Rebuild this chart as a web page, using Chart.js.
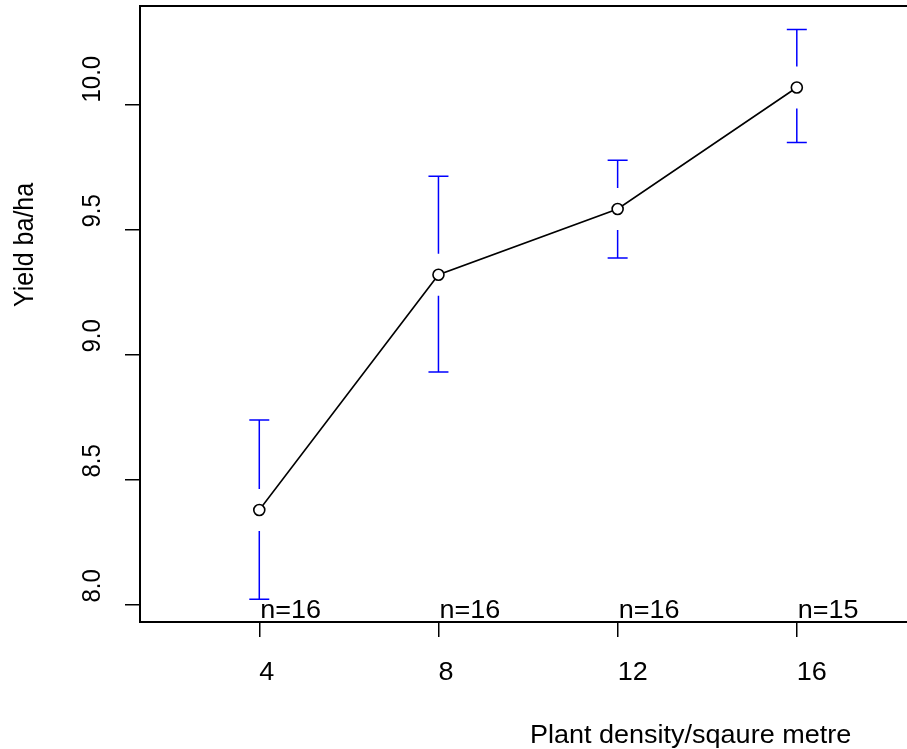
<!DOCTYPE html>
<html>
<head>
<meta charset="utf-8">
<script src="https://cdn.jsdelivr.net/npm/chart.js@4/dist/chart.umd.min.js"></script>
<style>
  body { margin: 0; background: #fff; }
  canvas { display: block; }
</style>
</head>
<body>
<canvas id="yieldChart" width="907" height="749"></canvas>
<script>
// values
const densities = [4, 8, 12, 16];
const meanYield = [8.378, 9.319, 9.582, 10.068];
const upperCI = [8.738, 9.713, 9.777, 10.300];
const lowerCI = [8.021, 8.930, 9.386, 9.848];
const counts = [16, 16, 16, 15];
const yTicks = [8.0, 8.5, 9.0, 9.5, 10.0];

const FONT = '"Liberation Sans", Arial, sans-serif';
const STRETCH = 1.08;

function hText(ctx, str, x, y, size) {
    ctx.save();
    ctx.translate(x, y);
    ctx.scale(STRETCH, 1);
    ctx.font = size + 'px ' + FONT;
    ctx.textAlign = 'left';
    ctx.textBaseline = 'alphabetic';
    ctx.fillText(str, 0, 0);
    ctx.restore();
}

function vText(ctx, str, x, y, size) {
    ctx.save();
    ctx.translate(x, y);
    ctx.scale(STRETCH, 1);
    ctx.rotate(-Math.PI / 2);
    ctx.font = size + 'px ' + FONT;
    ctx.textAlign = 'left';
    ctx.textBaseline = 'alphabetic';
    ctx.fillText(str, 0, 0);
    ctx.restore();
}

const extras = {
    id: 'extras',
    afterDraw(chart) {
        const ctx = chart.ctx;
        const xs = chart.scales.x, ys = chart.scales.y;
        const a = chart.chartArea;
        ctx.save();

        // box (right side runs off the page)
        ctx.strokeStyle = '#000';
        ctx.lineWidth = 2;
        ctx.beginPath();
        ctx.moveTo(chart.width + 5, a.top);
        ctx.lineTo(a.left, a.top);
        ctx.lineTo(a.left, a.bottom);
        ctx.lineTo(chart.width + 5, a.bottom);
        ctx.stroke();

        // error bars with a gap round the mean
        ctx.strokeStyle = '#0000ff';
        ctx.lineWidth = 1.5;
        const gap = 21, cap = 10;
        densities.forEach((d, i) => {
            const px = xs.getPixelForValue(d);
            const pm = ys.getPixelForValue(meanYield[i]);
            const pu = ys.getPixelForValue(upperCI[i]);
            const pl = ys.getPixelForValue(lowerCI[i]);
            ctx.beginPath();
            ctx.moveTo(px, pu); ctx.lineTo(px, pm - gap);
            ctx.moveTo(px, pm + gap); ctx.lineTo(px, pl);
            ctx.moveTo(px - cap, pu); ctx.lineTo(px + cap, pu);
            ctx.moveTo(px - cap, pl); ctx.lineTo(px + cap, pl);
            ctx.stroke();
        });

        ctx.fillStyle = '#000';
        // x tick labels and n= labels
        densities.forEach((d, i) => {
            const px = xs.getPixelForValue(d);
            hText(ctx, String(d), px, 680, 25);
            hText(ctx, 'n=' + counts[i], px + 1, 618, 25);
        });
        // y tick labels
        yTicks.forEach(v => {
            vText(ctx, v.toFixed(1), 100, ys.getPixelForValue(v) - 2, 24);
        });
        // axis titles
        hText(ctx, 'Plant density/sqaure metre', 530, 743, 25);
        vText(ctx, 'Yield ba/ha', 33, 307, 25);
        ctx.restore();
    }
};

const gridOpts = {
    drawOnChartArea: false,
    drawTicks: true,
    tickLength: 15,
    tickColor: '#000',
    tickWidth: 1.5,
    color: '#000',
    lineWidth: 1.5
};

new Chart(document.getElementById('yieldChart').getContext('2d'), {
    type: 'line',
    data: {
        datasets: [{
            data: densities.map((d, i) => ({ x: d, y: meanYield[i] })),
            borderColor: '#000',
            borderWidth: 1.6,
            pointRadius: 5.5,
            pointBorderWidth: 1.6,
            pointBorderColor: '#000',
            pointBackgroundColor: '#fff',
            tension: 0,
            fill: false
        }]
    },
    options: {
        responsive: false,
        animation: false,
        layout: { autoPadding: false, padding: { top: 6, right: 0, bottom: 0, left: 0 } },
        plugins: {
            legend: { display: false },
            tooltip: { enabled: false }
        },
        scales: {
            x: {
                type: 'linear',
                min: 1.337,
                max: 18.46,
                afterBuildTicks: s => { s.ticks = densities.map(v => ({ value: v })); },
                afterFit: s => { s.height = 127; },
                grid: gridOpts,
                border: { display: false },
                ticks: { display: false }
            },
            y: {
                type: 'linear',
                min: 7.93,
                max: 10.394,
                afterBuildTicks: s => { s.ticks = yTicks.map(v => ({ value: v })); },
                afterFit: s => { s.width = 140; },
                grid: gridOpts,
                border: { display: false },
                ticks: { display: false }
            }
        }
    },
    plugins: [extras]
});
</script>
</body>
</html>
